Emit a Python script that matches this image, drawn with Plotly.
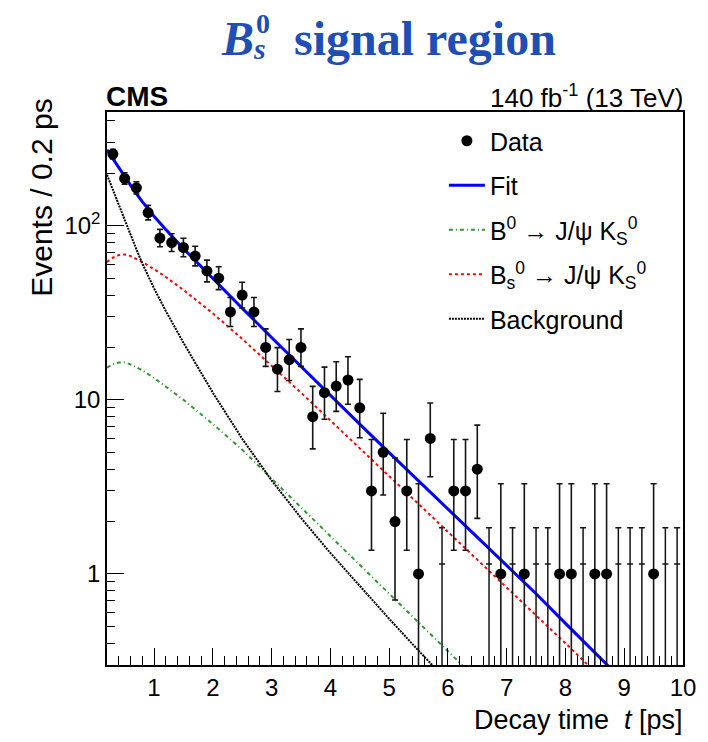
import math
import plotly.graph_objects as go

# ---------------- data ----------------
bin_centers = [0.3, 0.5, 0.7, 0.9, 1.1, 1.3, 1.5, 1.7, 1.9, 2.1,
               2.3, 2.5, 2.7, 2.9, 3.1, 3.3, 3.5, 3.7, 3.9, 4.1,
               4.3, 4.5, 4.7, 4.9, 5.1, 5.3, 5.5, 5.7, 5.9, 6.1,
               6.3, 6.5, 6.7, 6.9, 7.1, 7.3, 7.5, 7.7, 7.9, 8.1,
               8.3, 8.5, 8.7, 8.9, 9.1, 9.3, 9.5, 9.7, 9.9]
counts = [258, 187, 165, 119, 85, 80, 75, 67, 55, 50,
          32, 40, 32, 20, 15, 17, 20, 8, 11, 12,
          13, 9, 3, 5, 2, 3, 1, 6, 0, 3,
          3, 4, 0, 1, 0, 1, 0, 0, 1, 1,
          0, 1, 1, 0, 0, 0, 1, 0, 0]

curve_t = [0.2, 0.3, 0.4, 0.5, 0.6, 0.7, 0.8, 1.0, 1.2, 1.5, 2.0, 2.5, 3.0, 3.5,
           4.0, 4.5, 5.0, 5.5, 6.0, 6.5, 7.0, 7.5, 8.0, 8.5, 9.0, 9.5, 10.0]
fit_total = [273, 242, 215.5, 192, 171, 153, 137.5, 113.4, 95, 74, 49.7, 33.6, 22.8, 15.5,
             10.6, 7.26, 4.98, 3.42, 2.35, 1.63, 1.12, 0.77, 0.52, 0.35, 0.24, 0.165, 0.113]
b0_comp = [15.3, 16.0, 16.4, 16.4, 16.0, 15.4, 14.78, 13.37, 11.9, 10.0, 7.27, 5.17, 3.53, 2.41,
           1.65, 1.13, 0.77, 0.525, 0.36, 0.245, 0.168, 0.115, 0.079, 0.054, 0.037, 0.025, 0.017]
bs_comp = [62, 65.5, 67.8, 68.4, 67, 64.7, 61.9, 56.3, 50.8, 42.8, 31.4, 22.4, 15.8, 11.0,
           7.62, 5.28, 3.66, 2.53, 1.75, 1.21, 0.84, 0.58, 0.40, 0.275, 0.19, 0.13, 0.09]
bkg_comp = [196, 160.4, 131.4, 107.5, 88.1, 73.2, 60.8, 43.7, 32.4, 21.3, 11.0, 5.98, 3.45, 2.10,
            1.32, 0.85, 0.553, 0.363, 0.239, 0.157, 0.103, 0.068, 0.045, 0.03, 0.02, 0.013, 0.009]

x_tick_vals = [1, 2, 3, 4, 5, 6, 7, 8, 9, 10]
y_tick_vals = [1, 10, 100]
y_tick_text = ["1", "10", "10<sup>2</sup>"]
y_minor_vals = [0.3, 0.4, 0.5, 0.6, 0.7, 0.8, 0.9, 2, 3, 4, 5, 6, 7, 8, 9,
                20, 30, 40, 50, 60, 70, 80, 90, 200, 300, 400]

ZERO_BAR_TOP = 1.84   # upper Poisson edge of an empty bin
ZERO_BAR_CAP = 1.14   # small cross-bar drawn on empty bins


# ---------------- Poisson (Garwood) intervals ----------------
def pois_cdf(n, lam):
    term = math.exp(-lam)
    s = term
    for k in range(1, n + 1):
        term *= lam / k
        s += term
    return s


def solve(n, target):
    lo, hi = 0.0, n + 10 * math.sqrt(n + 1) + 10
    for _ in range(100):
        mid = 0.5 * (lo + hi)
        if pois_cdf(n, mid) > target:
            lo = mid
        else:
            hi = mid
    return 0.5 * (lo + hi)


a2 = 0.5 * (1 - 0.682689)
nz_x, nz_y, err_up, err_dn = [], [], [], []
z_x = []
for t, n in zip(bin_centers, counts):
    if n > 0:
        up = solve(n, a2)
        dn = solve(n - 1, 1 - a2)
        nz_x.append(t)
        nz_y.append(n)
        err_up.append(up - n)
        err_dn.append(n - dn)
    else:
        z_x.append(t)

BLACK = "#000000"
ERRC = "#151515"
FONT = "Liberation Sans, Arial, Helvetica, sans-serif"

fig = go.Figure()

fig.add_trace(go.Scatter(x=curve_t, y=fit_total, mode="lines", name="Fit",
                         line=dict(color="#0000ff", width=3), legendrank=2,
                         legendgroup="g2"))
fig.add_trace(go.Scatter(x=curve_t, y=b0_comp, mode="lines",
                         name="B<sup>0</sup> → J/ψ K<sub>S</sub><sup>0</sup>",
                         line=dict(color="#2f9a2f", width=2, dash="4px,3px,1px,3px"),
                         legendrank=3, legendgroup="g3"))
fig.add_trace(go.Scatter(x=curve_t, y=bs_comp, mode="lines",
                         name="B<sub>s</sub><sup>0</sup> → J/ψ K<sub>S</sub><sup>0</sup>",
                         line=dict(color="#ff0000", width=2, dash="3px,3px"),
                         legendrank=4, legendgroup="g4"))
fig.add_trace(go.Scatter(x=curve_t, y=bkg_comp, mode="lines", name="Background",
                         line=dict(color=BLACK, width=2, dash="2px,1px"),
                         legendrank=5, legendgroup="g5"))

# empty bins: vertical bar from below the axis up to the Poisson upper edge
fig.add_trace(go.Scatter(x=z_x, y=[ZERO_BAR_TOP] * len(z_x), mode="markers",
                         marker=dict(size=1, opacity=0), showlegend=False,
                         hoverinfo="skip",
                         error_y=dict(type="data", symmetric=False,
                                      array=[0] * len(z_x),
                                      arrayminus=[ZERO_BAR_TOP - ZERO_BAR_CAP] * len(z_x),
                                      color=ERRC, thickness=1.5, width=3)))
fig.add_trace(go.Scatter(x=z_x, y=[ZERO_BAR_CAP] * len(z_x), mode="markers",
                         marker=dict(size=1, opacity=0), showlegend=False,
                         hoverinfo="skip",
                         error_y=dict(type="data", symmetric=False,
                                      array=[0] * len(z_x),
                                      arrayminus=[ZERO_BAR_CAP - 0.01] * len(z_x),
                                      color=ERRC, thickness=1.5, width=0)))

fig.add_trace(go.Scatter(x=nz_x, y=nz_y, mode="markers", name="Data",
                         marker=dict(color=BLACK, size=11, symbol="circle"),
                         error_y=dict(type="data", symmetric=False,
                                      array=err_up, arrayminus=err_dn,
                                      color=ERRC, thickness=1.6, width=3),
                         legendrank=1, legendgroup="g1"))

L, R, T, B = 107, 690, 112, 665
W, H = R - L, B - T


def xp(px):
    return (px - L) / W


def yp(py):
    return (B - py) / H


fig.update_layout(
    width=708, height=742,
    margin=dict(l=L, r=708 - R, t=T, b=742 - B, pad=0),
    paper_bgcolor="white", plot_bgcolor="white",
    font=dict(family=FONT, color=BLACK, size=24),
    showlegend=True,
    legend=dict(x=xp(448), y=yp(118), xanchor="left", yanchor="top",
                bgcolor="rgba(0,0,0,0)", borderwidth=0,
                font=dict(family=FONT, size=25, color=BLACK),
                tracegroupgap=9, itemwidth=36, traceorder="grouped"),
    xaxis=dict(range=[0.2, 10], showgrid=False, zeroline=False,
               showline=True, linecolor=BLACK, linewidth=1.5, mirror=True,
               ticks="inside", ticklen=17, tickwidth=1.2, tickcolor=BLACK,
               tickmode="array", tickvals=x_tick_vals,
               tickfont=dict(family=FONT, size=24, color=BLACK),
               minor=dict(ticks="inside", ticklen=9, tickwidth=1.2,
                          tickcolor=BLACK, dtick=0.2, tick0=0, showgrid=False)),
    yaxis=dict(type="log", range=[math.log10(0.3), math.log10(450)],
               showgrid=False, zeroline=False,
               showline=True, linecolor=BLACK, linewidth=1.5, mirror=True,
               ticks="inside", ticklen=17, tickwidth=1.2, tickcolor=BLACK,
               tickmode="array", tickvals=y_tick_vals, ticktext=y_tick_text,
               tickfont=dict(family=FONT, size=24, color=BLACK),
               minor=dict(ticks="inside", ticklen=8, tickwidth=1.2,
                          tickcolor=BLACK, tickvals=y_minor_vals, showgrid=False)),
)

TITLE_BLUE = "#1f4fb4"
SERIF = "Liberation Serif, Times New Roman, serif"
ann = [
    # axis titles
    dict(text="Decay time  <i>t</i> [ps]", x=xp(692), y=yp(720), xanchor="right",
         yanchor="middle", font=dict(family=FONT, size=27, color=BLACK)),
    dict(text="Events / 0.2 ps", x=xp(40), y=yp(97), xanchor="center",
         yanchor="top", textangle=-90, font=dict(family=FONT, size=30, color=BLACK)),
    # CMS labels
    dict(text="<b>CMS</b>", x=xp(104), y=yp(96), xanchor="left", yanchor="middle",
         font=dict(family=FONT, size=28, color=BLACK)),
    dict(text="140 fb<sup>-1</sup> (13 TeV)", x=xp(692), y=yp(96), xanchor="right",
         yanchor="middle", font=dict(family=FONT, size=26, color=BLACK)),
    # title
    dict(text="<b><i>B</i></b>", x=xp(220), y=yp(38), xanchor="left", yanchor="middle",
         font=dict(family=SERIF, size=48, color=TITLE_BLUE)),
    dict(text="<b>0</b>", x=xp(256), y=yp(24), xanchor="left", yanchor="middle",
         font=dict(family=SERIF, size=28, color=TITLE_BLUE)),
    dict(text="<b><i>s</i></b>", x=xp(253), y=yp(48), xanchor="left", yanchor="middle",
         font=dict(family=SERIF, size=30, color=TITLE_BLUE)),
    dict(text="<b>signal region</b>", x=xp(294), y=yp(38), xanchor="left",
         yanchor="middle", font=dict(family=SERIF, size=48, color=TITLE_BLUE)),
]
for a in ann:
    a.update(xref="paper", yref="paper", showarrow=False)
fig.update_layout(annotations=ann)

fig.write_html("out.html")
